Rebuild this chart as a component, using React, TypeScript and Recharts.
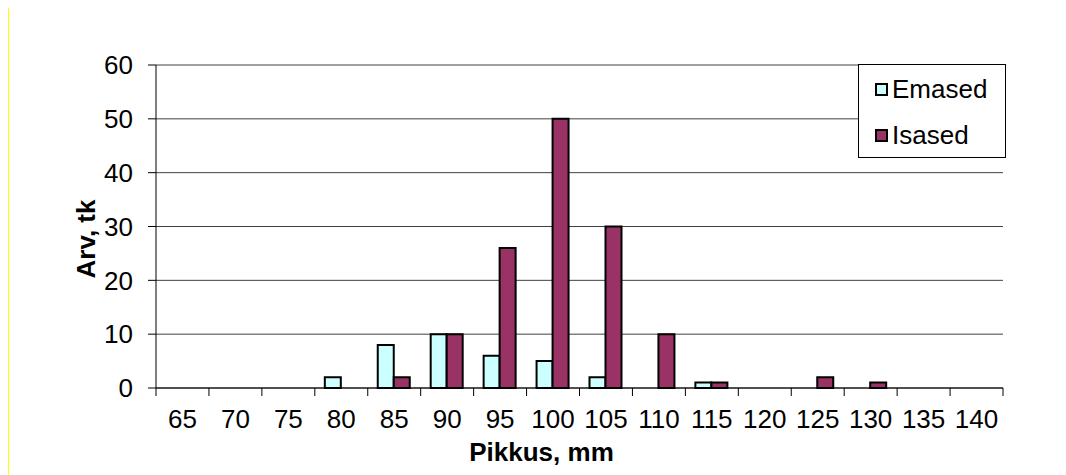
import React from 'react';
import { BarChart, Bar, XAxis, YAxis, CartesianGrid, Legend } from 'recharts';

const lengths = ['65', '70', '75', '80', '85', '90', '95', '100', '105', '110', '115', '120', '125', '130', '135', '140'];
const females = [0, 0, 0, 2, 8, 10, 6, 5, 2, 0, 1, 0, 0, 0, 0, 0];
const males = [0, 0, 0, 0, 2, 10, 26, 50, 30, 10, 1, 0, 2, 1, 0, 0];
const yTicks = [0, 10, 20, 30, 40, 50, 60];

const data = lengths.map((len, i) => ({ len, Emased: females[i], Isased: males[i] }));

const W = 1066;
const H = 475;
const margin = { top: 65, right: 63, left: 0, bottom: 0 };
const yAxisWidth = 156;
const font = '"Liberation Sans", Arial, sans-serif';
const fs = 26;
const plotWidth = W - yAxisWidth - margin.right;
const band = plotWidth / lengths.length;

// ticks sit on category boundaries, labels in the middle
function LengthTick(props: any) {
  const { x, y, payload, index } = props;
  const left = x - band / 2;
  return (
    <g>
      <line x1={left} y1={y} x2={left} y2={y + 8} stroke="#000" strokeWidth={1} />
      {index === lengths.length - 1 && (
        <line x1={x + band / 2} y1={y} x2={x + band / 2} y2={y + 8} stroke="#000" strokeWidth={1} />
      )}
      <text x={x} y={y + 40} textAnchor="middle" fontSize={fs} fill="#000" fontFamily={font}>
        {payload.value}
      </text>
    </g>
  );
}

function LegendBox(props: any) {
  const { payload } = props;
  return (
    <div
      style={{
        width: 148,
        height: 94,
        boxSizing: 'border-box',
        border: '1px solid #000',
        background: '#fff',
        fontFamily: font,
        fontSize: fs,
        paddingLeft: 16,
        paddingTop: 1,
        textAlign: 'left',
      }}
    >
      {(payload || []).map((p: any) => (
        <div key={p.value} style={{ display: 'flex', alignItems: 'center', height: 46 }}>
          <span
            style={{
              display: 'inline-block',
              width: 9,
              height: 9,
              border: '2px solid #000',
              background: p.color,
              marginRight: 4,
            }}
          />
          <span>{p.value}</span>
        </div>
      ))}
    </div>
  );
}

export default function App() {
  return (
    <div style={{ position: 'absolute', left: 0, top: 0, width: W, height: H, background: '#fff' }}>
      <div style={{ position: 'absolute', left: 8, top: 8, width: 1, height: H - 8, background: '#ffff00' }} />
      <BarChart width={W} height={H} data={data} margin={margin} barGap={0} barSize={16}>
        <CartesianGrid vertical={false} stroke="#404040" strokeWidth={1} />
        <XAxis
          dataKey="len"
          height={H - 388}
          axisLine={{ stroke: '#000', strokeWidth: 1 }}
          tickLine={false}
          tickSize={0}
          tickMargin={0}
          interval={0}
          tick={<LengthTick />}
          label={{
            content: (p: any) => {
              const vb = p.viewBox;
              return (
                <text
                  x={vb.x + vb.width / 2 - 38}
                  y={vb.y + 73}
                  textAnchor="middle"
                  fontSize={fs}
                  fontWeight="bold"
                  fontFamily={font}
                  fill="#000"
                >
                  Pikkus, mm
                </text>
              );
            },
          }}
        />
        <YAxis
          width={yAxisWidth}
          domain={[0, 60]}
          ticks={yTicks}
          interval={0}
          axisLine={{ stroke: '#000', strokeWidth: 1 }}
          tickLine={{ stroke: '#000', strokeWidth: 1 }}
          tickSize={8}
          tickMargin={15}
          tick={{ fontSize: fs, fill: '#000', fontFamily: font }}
          label={{
            content: () => (
              <text
                x={86}
                y={239}
                transform="rotate(-90 86 239)"
                textAnchor="middle"
                dominantBaseline="central"
                fontSize={fs}
                fontWeight="bold"
                fontFamily={font}
                fill="#000"
              >
                Arv, tk
              </text>
            ),
          }}
        />
        <YAxis
          yAxisId="r"
          orientation="right"
          width={0}
          domain={[0, 60]}
          tick={false}
          tickLine={false}
          axisLine={{ stroke: '#808080', strokeWidth: 1 }}
        />
        <Legend
          layout="horizontal"
          verticalAlign="middle"
          align="center"
          content={<LegendBox />}
          wrapperStyle={{ position: 'absolute', left: 858, top: 64, width: 148, height: 94 }}
        />
        <Bar dataKey="Emased" fill="#ccffff" stroke="#000" strokeWidth={2} isAnimationActive={false} />
        <Bar dataKey="Isased" fill="#993366" stroke="#000" strokeWidth={2} isAnimationActive={false} />
      </BarChart>
    </div>
  );
}
